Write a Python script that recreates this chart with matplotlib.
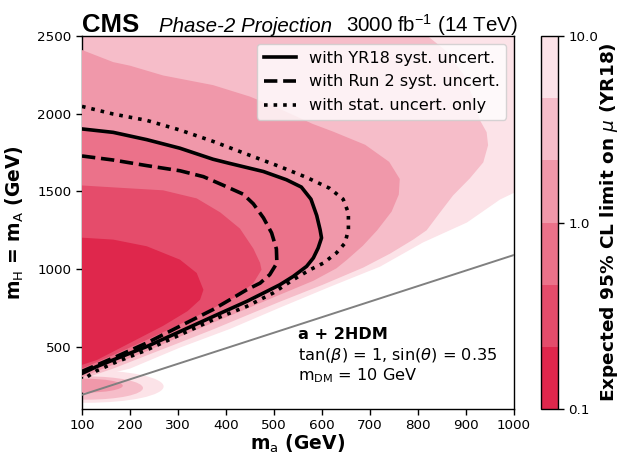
import numpy as np
import matplotlib
matplotlib.use("Agg")
import matplotlib.pyplot as plt
from matplotlib.colors import ListedColormap, Normalize
from matplotlib.cm import ScalarMappable
from matplotlib.patches import Ellipse

# ---------------------------------------------------------------------------
# Expected 95% CL limit on mu, log-spaced colour levels
mu_levels = [0.1, 0.215, 0.464, 1.0, 2.15, 4.64, 10.0]
band_colors = ["#DF274C", "#E54C6B", "#EB728A", "#F098AA", "#F6BDC9", "#FCE3E8"]

# Filled regions (m_a, m_H in GeV) where mu is below a given level
lt10_ma = [90, 1010, 1010, 1000, 971, 902, 810, 721, 617, 512, 408, 304, 200, 100, 90]
lt10_mh = [2600, 2600, 1505, 1491, 1448, 1300, 1171, 1016, 887, 752, 615, 495, 360, 285, 280]

lt464_ma = [90, 820, 820, 860, 895, 915, 929, 943, 946, 936, 908, 873, 846, 818, 790,
            742, 686, 602, 512, 443, 373, 304, 235, 165, 100, 90]
lt464_mh = [2600, 2600, 2500, 2400, 2250, 2100, 1958, 1881, 1797, 1687, 1584, 1474, 1365,
            1250, 1190, 1100, 1010, 900, 790, 702, 612, 528, 445, 360, 292, 287]

lt215_ma = [90, 100, 165, 200, 269, 373, 450, 520, 580, 623, 690, 740, 762, 760, 745,
            715, 685, 652, 630, 582, 512, 443, 373, 304, 235, 165, 100, 90]
lt215_mh = [2415, 2410, 2332, 2309, 2246, 2184, 2110, 2020, 1935, 1885, 1800, 1690, 1580,
            1480, 1370, 1250, 1150, 1060, 1005, 925, 835, 745, 655, 565, 472, 385, 305, 298]

lt046_ma = [90, 96, 165, 269, 339, 388, 429, 457, 471, 474, 457, 422, 373, 304, 235, 165, 100, 90]
lt046_mh = [1539, 1539, 1526, 1507, 1455, 1365, 1261, 1132, 1040, 996, 910, 824, 748,
            645, 545, 447, 360, 350]

lt022_ma = [90, 96, 165, 235, 304, 339, 353, 346, 320, 269, 200, 131, 96, 90]
lt022_mh = [1203, 1203, 1190, 1147, 1061, 975, 867, 803, 730, 635, 525, 415, 380, 375]

# Small island at low m_a close to the kinematic limit: centre and half-axes per level
island_ma = [110, 110, 105]
island_mh = [245, 235, 250]
island_half_ma = [160, 117, 80]
island_half_mh = [105, 75, 45]

# mu = 1 contours (m_a, m_H)
yr18_ma = [90, 100, 165, 235, 304, 373, 408, 478, 526, 557, 577, 589, 596, 599, 592, 582,
           568, 540, 512, 478, 443, 373, 304, 235, 165, 130, 100, 90]
yr18_mh = [1905, 1902, 1880, 1833, 1778, 1707, 1680, 1628, 1575, 1528, 1450, 1345, 1254,
           1201, 1136, 1072, 1018, 953, 899, 846, 792, 695, 598, 502, 416, 372, 329, 318]

run2_ma = [100, 165, 235, 304, 353, 394, 436, 457, 478, 495, 505, 506, 491, 471, 443, 408,
           373, 304, 235, 165, 100]
run2_mh = [1728, 1702, 1666, 1633, 1595, 1540, 1482, 1420, 1330, 1233, 1130, 1039, 964,
           910, 867, 803, 740, 633, 525, 428, 342]

stat_ma = [100, 165, 235, 304, 373, 443, 512, 568, 616, 644, 655, 655, 648, 630, 603, 575,
           540, 498, 443, 373, 304, 235, 165, 130, 117, 106]
stat_mh = [2047, 1998, 1957, 1895, 1822, 1740, 1660, 1590, 1520, 1450, 1362, 1254, 1168,
           1104, 1039, 996, 932, 846, 760, 674, 577, 480, 394, 345, 320, 297]

# Kinematic boundary m_H = m_a + m_Z
mz = 91.0
edge_ma = [100, 1000]

x_ticks = [100, 200, 300, 400, 500, 600, 700, 800, 900, 1000]
y_ticks = [500, 1000, 1500, 2000, 2500]
cbar_ticks = [0.1, 1.0, 10.0]
cbar_ticklabels = ["0.1", "1.0", "10.0"]

# ---------------------------------------------------------------------------
fig = plt.figure(figsize=(6.19, 4.55), dpi=100)
ax = fig.add_axes([82 / 619, 46 / 455, 432 / 619, 373 / 455])
cax = fig.add_axes([541 / 619, 46 / 455, 17 / 619, 373 / 455])

regions = [(lt10_ma, lt10_mh), (lt464_ma, lt464_mh), (lt215_ma, lt215_mh),
           (yr18_ma, yr18_mh), (lt046_ma, lt046_mh), (lt022_ma, lt022_mh)]
band_order = [5, 4, 3, 2, 1, 0]
for k, ((xs, ys), b) in enumerate(zip(regions, band_order)):
    ax.fill(xs, ys, color=band_colors[b], lw=0, zorder=1 + k)
    if k < len(island_ma):
        ax.add_patch(Ellipse((island_ma[k], island_mh[k]), 2 * island_half_ma[k],
                             2 * island_half_mh[k], color=band_colors[b], lw=0,
                             zorder=1 + k))

ax.plot(edge_ma, [m + mz for m in edge_ma], color="gray", lw=1.4, zorder=10)

ax.plot(yr18_ma, yr18_mh, color="black", lw=2.6, ls="-", zorder=12,
        label="with YR18 syst. uncert.")
ax.plot(run2_ma, run2_mh, color="black", lw=2.6, ls="--", zorder=12,
        label="with Run 2 syst. uncert.")
ax.plot(stat_ma, stat_mh, color="black", lw=2.6, ls=":", zorder=12,
        label="with stat. uncert. only")

ax.set_xlim(100, 1000)
ax.set_ylim(100, 2500)
ax.set_xticks(x_ticks)
ax.set_yticks(y_ticks)
ax.tick_params(labelsize=9.7, length=4, width=1, direction="out")
for s in ax.spines.values():
    s.set_linewidth(1.0)

ax.set_xlabel(r"m$_{\mathrm{a}}$ (GeV)", fontsize=13.5, fontweight="bold", labelpad=0.5)
ax.set_ylabel(r"m$_{\mathrm{H}}$ = m$_{\mathrm{A}}$ (GeV)", fontsize=13.5,
              fontweight="bold", labelpad=8)

leg = ax.legend(loc="upper right", fontsize=11.6, handlelength=2.0, labelspacing=0.55)
leg.set_zorder(20)

# Model annotation
ax.text(0.5, 0.188, "a + 2HDM", transform=ax.transAxes, fontsize=11.6,
        fontweight="bold", zorder=15)
ax.text(0.5, 0.131, r"tan($\beta$) = 1, sin($\theta$) = 0.35", transform=ax.transAxes,
        fontsize=11.6, zorder=15)
ax.text(0.5, 0.078, r"m$_{\mathrm{DM}}$ = 10 GeV", transform=ax.transAxes,
        fontsize=11.6, zorder=15)

# Header
ax.text(0.0, 1.011, "CMS", transform=ax.transAxes, fontsize=18.5, fontweight="bold",
        family="Liberation Sans", va="baseline")
ax.text(0.178, 1.011, "Phase-2 Projection", transform=ax.transAxes, fontsize=14.8,
        style="italic", family="Liberation Sans", va="baseline")
ax.text(1.009, 1.011, r"3000 fb$\mathregular{^{-1}}$ (14 TeV)", transform=ax.transAxes,
        fontsize=14.8, family="Liberation Sans", va="baseline", ha="right")

# Colour bar in log10(mu)
sm = ScalarMappable(norm=Normalize(np.log10(mu_levels[0]), np.log10(mu_levels[-1])),
                    cmap=ListedColormap(band_colors))
cb = fig.colorbar(sm, cax=cax, ticks=np.log10(cbar_ticks))
cb.set_ticklabels(cbar_ticklabels)
cb.ax.tick_params(labelsize=9.7, length=4, width=1)
cb.outline.set_linewidth(1.0)
cb.set_label(r"Expected 95% CL limit on $\mu$ (YR18)", fontsize=13.3,
             fontweight="bold", labelpad=0)

fig.savefig("out.png", dpi=100)
